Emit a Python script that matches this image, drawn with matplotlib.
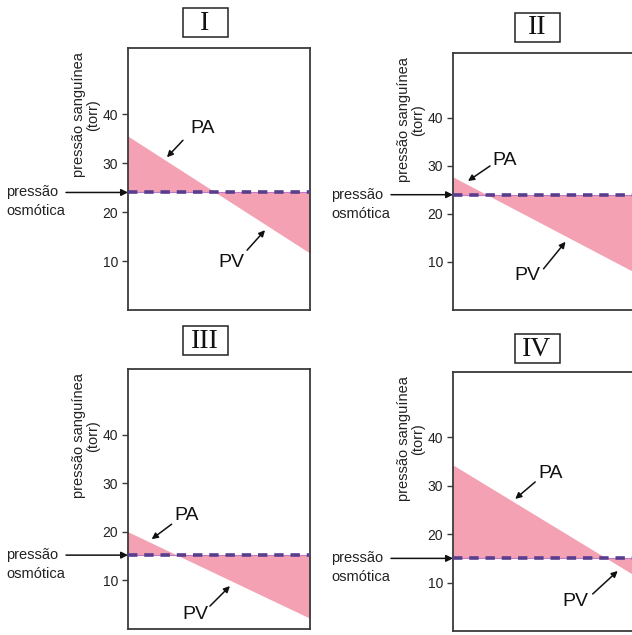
import matplotlib
matplotlib.use("Agg")
import matplotlib.pyplot as plt
from matplotlib.patches import Rectangle
import numpy as np

# Panel labels and pressure values (torr)
panels = ["I", "II", "III", "IV"]
pa_start = [35.5, 27.7, 20.0, 34.3]   # arterial pressure at the arteriole end
pv_end = [11.6, 7.7, 2.2, 11.3]       # venous pressure at the venule end
osmotic = [24.0, 24.0, 15.2, 15.0]    # osmotic pressure
yticks = [10, 20, 30, 40]
ylabel = "pressão sanguínea\n(torr)"
osm_label = ["pressão", "osmótica"]

W, H = 632, 635
DPI = 100
fig = plt.figure(figsize=(W / DPI, H / DPI), dpi=DPI)
plt.rcParams["font.family"] = ["Liberation Sans", "DejaVu Sans"]

def fx(px):
    return px / W

def fy(py):
    return 1 - py / H

# axes rectangles in pixels: left, top, width, height
axes_px = [(128, 48, 182, 262), (453, 53, 183, 257),
           (128, 369, 182, 260), (453, 372, 183, 259)]
title_px = [(205, 22), (537, 27), (205, 340), (537, 348)]

# annotation geometry: tip x (axes fraction), tail offset, text offset (pixels)
pa_geo = [(0.214, (16, 17), (36, 29)), (0.082, (22, 15), (37, 20)),
          (0.13, (20, 15), (35, 24)), (0.34, (20, 17), (35, 25))]
pv_geo = [(0.753, (-18, -20), (-34, -32)), (0.615, (-22, -27), (-38, -34)),
          (0.56, (-20, -20), (-35, -28)), (0.90, (-25, -23), (-42, -31))]

fill_color = "#f3a1b3"
dash_color = "#5a3e8e"
edge_color = "#3a3a3a"

for i, name in enumerate(panels):
    l, t, w, h = axes_px[i]
    ax = fig.add_axes([fx(l), fy(t + h), w / W, h / H])
    ax.set_xlim(0, 1)
    ax.set_ylim(0, 53.5)

    x = np.array([0.0, 1.0])
    y = np.array([pa_start[i], pv_end[i]])
    xs = np.linspace(0, 1, 400)
    ys = np.interp(xs, x, y)
    ax.fill_between(xs, ys, osmotic[i], color=fill_color, linewidth=0)

    ax.axhline(osmotic[i], color="#c27ac8", lw=0.8, zorder=3)
    ax.axhline(osmotic[i], color=dash_color, lw=2.6, dashes=(2.6, 1.9), zorder=4)

    for s in ax.spines.values():
        s.set_color(edge_color)
        s.set_linewidth(1.3)
    ax.set_xticks([])
    ax.set_yticks(yticks)
    ax.set_yticklabels([str(v) for v in yticks], fontsize=10, color="#222222")
    ax.tick_params(axis="y", direction="out", length=4, width=1, pad=3,
                   color=edge_color)

    ax.text(-0.23, 1 - 67 / h, ylabel, transform=ax.transAxes, rotation=90,
            ha="center", va="center", multialignment="center", fontsize=10.5,
            linespacing=0.95, color="#222222")

    # osmotic pressure callout
    ytr = ax.get_yaxis_transform()
    ax.annotate("", xy=(0, osmotic[i]), xycoords=ytr, xytext=(-62, 0),
                textcoords="offset pixels",
                arrowprops=dict(arrowstyle="-|>", color="#111111", lw=1.1,
                                mutation_scale=10, shrinkA=0, shrinkB=0),
                annotation_clip=False)
    ax.annotate(osm_label[0], xy=(0, osmotic[i]), xycoords=ytr,
                xytext=(-122, 0), textcoords="offset pixels",
                ha="left", va="center", fontsize=10.5, color="#222222",
                annotation_clip=False)
    ax.annotate(osm_label[1], xy=(0, osmotic[i]), xycoords=ytr,
                xytext=(-122, -19), textcoords="offset pixels",
                ha="left", va="center", fontsize=10.5, color="#222222",
                annotation_clip=False)

    # PA / PV callouts pointing at the pressure line
    for lab, (tx, tail, toff), dy in (("PA", pa_geo[i], 0.8), ("PV", pv_geo[i], -1.2)):
        ty = float(np.interp(tx, x, y)) + dy
        ax.annotate("", xy=(tx, ty), xytext=tail, textcoords="offset pixels",
                    arrowprops=dict(arrowstyle="-|>", color="#111111", lw=1.1,
                                    mutation_scale=9, shrinkA=0, shrinkB=0),
                    annotation_clip=False)
        ax.annotate(lab, xy=(tx, ty), xytext=toff, textcoords="offset pixels",
                    ha="center", va="center", fontsize=14, color="#111111",
                    annotation_clip=False)

    # boxed roman-numeral panel title
    cx, cy = title_px[i]
    bw, bh = 45, 29
    fig.add_artist(Rectangle((fx(cx - bw / 2), fy(cy + bh / 2)), bw / W, bh / H,
                             transform=fig.transFigure, fill=False,
                             edgecolor="#222222", lw=1.1))
    fig.text(fx(cx), fy(cy + 1), name, ha="center", va="center",
             fontsize=20, family="Liberation Serif", color="#111111")

fig.savefig("out.png", dpi=DPI)
